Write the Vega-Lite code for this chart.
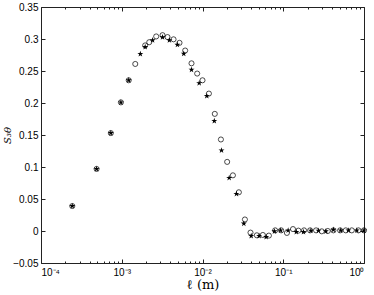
{
  "$schema": "https://vega.github.io/schema/vega-lite/v6.json",
  "width": 323,
  "height": 256,
  "autosize": {"type": "none"},
  "padding": {"left": 41, "top": 7, "right": 10, "bottom": 32},
  "config": {
    "view": {"stroke": "#222", "strokeWidth": 1},
    "font": "Liberation Sans",
    "axis": {"grid": false, "domain": false, "labelFont": "Liberation Sans", "labelFontSize": 10, "labelColor": "#000", "tickColor": "#222", "titleColor": "#000"}
  },
  "datasets": {
    "circ": [
      {"l": 0.000244, "s": 0.039}, {"l": 0.000488, "s": 0.097}, {"l": 0.000732, "s": 0.153}, {"l": 0.000976, "s": 0.201}, {"l": 0.00122, "s": 0.2355},
      {"l": 0.00147, "s": 0.261}, {"l": 0.00195, "s": 0.290}, {"l": 0.00219, "s": 0.295}, {"l": 0.00267, "s": 0.304}, {"l": 0.0032, "s": 0.306},
      {"l": 0.00369, "s": 0.303}, {"l": 0.00438, "s": 0.2995}, {"l": 0.00519, "s": 0.294}, {"l": 0.0061, "s": 0.282}, {"l": 0.00731, "s": 0.262},
      {"l": 0.00859, "s": 0.246}, {"l": 0.01, "s": 0.2355}, {"l": 0.012, "s": 0.2147}, {"l": 0.0142, "s": 0.183}, {"l": 0.0169, "s": 0.143},
      {"l": 0.0202, "s": 0.108}, {"l": 0.0238, "s": 0.087}, {"l": 0.0282, "s": 0.0605}, {"l": 0.0335, "s": 0.018}, {"l": 0.0393, "s": -0.0025},
      {"l": 0.0471, "s": -0.0067}, {"l": 0.0559, "s": -0.0062}, {"l": 0.0664, "s": -0.0072}, {"l": 0.0794, "s": 0.001}, {"l": 0.0942, "s": 0.001},
      {"l": 0.111, "s": -0.003}, {"l": 0.132, "s": 0.003}, {"l": 0.154, "s": 0.0006}, {"l": 0.181, "s": 0.001}, {"l": 0.215, "s": 0.001},
      {"l": 0.255, "s": 0.001}, {"l": 0.3, "s": -0.0005}, {"l": 0.356, "s": 0}, {"l": 0.418, "s": 0.001}, {"l": 0.506, "s": 0.001},
      {"l": 0.595, "s": 0.001}, {"l": 0.706, "s": 0.001}, {"l": 0.853, "s": 0.001}, {"l": 1.0, "s": 0.001}
    ],
    "star": [
      {"l": 0.000244, "s": 0.039}, {"l": 0.000488, "s": 0.097}, {"l": 0.000732, "s": 0.153}, {"l": 0.000976, "s": 0.201}, {"l": 0.00122, "s": 0.2355},
      {"l": 0.0017, "s": 0.2766}, {"l": 0.00195, "s": 0.2875}, {"l": 0.00241, "s": 0.298}, {"l": 0.0032, "s": 0.3027}, {"l": 0.00389, "s": 0.298},
      {"l": 0.00489, "s": 0.291}, {"l": 0.00586, "s": 0.277}, {"l": 0.00731, "s": 0.252}, {"l": 0.0091, "s": 0.231}, {"l": 0.0113, "s": 0.211},
      {"l": 0.014, "s": 0.172}, {"l": 0.0172, "s": 0.126}, {"l": 0.0214, "s": 0.083}, {"l": 0.0263, "s": 0.058}, {"l": 0.0325, "s": 0.0116},
      {"l": 0.0401, "s": -0.0078}, {"l": 0.0503, "s": -0.0078}, {"l": 0.0614, "s": -0.0094}, {"l": 0.0778, "s": -0.0005}, {"l": 0.0927, "s": 0.001},
      {"l": 0.115, "s": 0.001}, {"l": 0.145, "s": -0.0016}, {"l": 0.178, "s": -0.0016}, {"l": 0.22, "s": 0.0006}, {"l": 0.273, "s": 0.0006},
      {"l": 0.337, "s": -0.0005}, {"l": 0.418, "s": 0.002}, {"l": 0.515, "s": 0.001}, {"l": 0.641, "s": 0.001}, {"l": 0.814, "s": 0.001}, {"l": 1.0, "s": 0.001}
    ]
  },
  "resolve": {"axis": {"x": "independent", "y": "independent"}},
  "layer": [
    {
      "data": {"name": "circ"},
      "mark": {"type": "point", "shape": "circle", "filled": false, "stroke": "#000", "strokeWidth": 0.7, "size": 26, "opacity": 1, "clip": false},
      "encoding": {
        "x": {"field": "l", "type": "quantitative",
          "scale": {"type": "log", "domain": [0.0001, 1], "nice": false},
          "axis": {"orient": "bottom", "values": [0.0001, 0.001, 0.01, 0.1, 1], "tickSize": -4, "labelPadding": 8,
            "labelExpr": "datum.value < 0.0005 ? '10⁻⁴' : datum.value < 0.005 ? '10⁻³' : datum.value < 0.05 ? '10⁻²' : datum.value < 0.5 ? '10⁻¹' : '10⁰'",
            "title": "ℓ (m)", "titleFont": "DejaVu Serif", "titleFontSize": 13, "titleFontWeight": "normal", "titlePadding": 1}},
        "y": {"field": "s", "type": "quantitative",
          "scale": {"domain": [-0.05, 0.35], "nice": false, "zero": false},
          "axis": {"orient": "left", "values": [-0.05, 0, 0.05, 0.1, 0.15, 0.2, 0.25, 0.3, 0.35], "tickSize": -4, "labelPadding": 7,
            "labelExpr": "format(datum.value, '~g')",
            "title": "S₃θ", "titleFont": "DejaVu Serif", "titleFontSize": 10, "titleFontWeight": "normal", "titleFontStyle": "italic", "titlePadding": 0}}
      }
    },
    {
      "data": {"name": "star"},
      "mark": {"type": "point", "shape": "M0,-1L0.224,-0.309L0.951,-0.309L0.363,0.118L0.588,0.809L0,0.382L-0.588,0.809L-0.363,0.118L-0.951,-0.309L-0.224,-0.309Z", "filled": true, "fill": "#000", "size": 40, "opacity": 1, "clip": false},
      "encoding": {
        "x": {"field": "l", "type": "quantitative",
          "scale": {"type": "log", "domain": [0.0001, 1], "nice": false},
          "axis": {"orient": "bottom", "values": [0.0002,0.0003,0.0004,0.0005,0.0006,0.0007,0.0008,0.0009,0.002,0.003,0.004,0.005,0.006,0.007,0.008,0.009,0.02,0.03,0.04,0.05,0.06,0.07,0.08,0.09,0.2,0.3,0.4,0.5,0.6,0.7,0.8,0.9], "tickSize": -2, "labels": false, "title": null}},
        "y": {"field": "s", "type": "quantitative",
          "scale": {"domain": [-0.05, 0.35], "nice": false, "zero": false},
          "axis": {"orient": "right", "values": [-0.05, 0, 0.05, 0.1, 0.15, 0.2, 0.25, 0.3, 0.35], "tickSize": -4, "labels": false, "title": null}}
      }
    },
    {
      "data": {"name": "circ"},
      "mark": {"type": "point", "opacity": 0},
      "encoding": {
        "x": {"field": "l", "type": "quantitative",
          "scale": {"type": "log", "domain": [0.0001, 1], "nice": false},
          "axis": {"orient": "top", "values": [0.0001, 0.001, 0.01, 0.1, 1], "tickSize": -4, "labels": false, "title": null}},
        "y": {"field": "s", "type": "quantitative", "axis": null}
      }
    },
    {
      "data": {"name": "star"},
      "mark": {"type": "point", "opacity": 0},
      "encoding": {
        "x": {"field": "l", "type": "quantitative",
          "scale": {"type": "log", "domain": [0.0001, 1], "nice": false},
          "axis": {"orient": "top", "values": [0.0002,0.0003,0.0004,0.0005,0.0006,0.0007,0.0008,0.0009,0.002,0.003,0.004,0.005,0.006,0.007,0.008,0.009,0.02,0.03,0.04,0.05,0.06,0.07,0.08,0.09,0.2,0.3,0.4,0.5,0.6,0.7,0.8,0.9], "tickSize": -2, "labels": false, "title": null}},
        "y": {"field": "s", "type": "quantitative", "axis": null}
      }
    }
  ]
}
